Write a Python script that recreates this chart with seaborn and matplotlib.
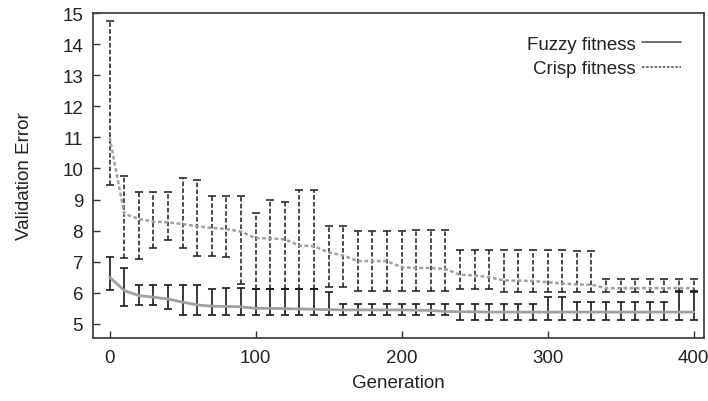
import matplotlib
matplotlib.use("Agg")
import matplotlib.pyplot as plt
import seaborn as sns
import numpy as np

# Generations (x values)
gens = [0, 10, 20, 30, 40, 50, 60, 70, 80, 90,
        100, 110, 120, 130, 140, 150, 160, 170, 180, 190,
        200, 210, 220, 230, 240, 250, 260, 270, 280, 290,
        300, 310, 320, 330, 340, 350, 360, 370, 380, 390, 400]

# Fuzzy fitness: mean, lower, upper
fuzzy_mean = [6.5, 6.07, 5.91, 5.86, 5.8, 5.7, 5.61, 5.57, 5.56, 5.55,
              5.5, 5.5, 5.49, 5.48, 5.47, 5.46, 5.45, 5.45, 5.45, 5.45,
              5.45, 5.44, 5.43, 5.4, 5.39, 5.39, 5.38, 5.38, 5.38, 5.38,
              5.38, 5.38, 5.38, 5.38, 5.38, 5.38, 5.38, 5.38, 5.38, 5.38, 5.38]
fuzzy_lower = [6.1, 5.59, 5.61, 5.61, 5.48, 5.3, 5.3, 5.3, 5.3, 5.3,
               5.3, 5.3, 5.3, 5.3, 5.3, 5.3, 5.3, 5.3, 5.3, 5.3,
               5.3, 5.3, 5.3, 5.3, 5.12, 5.12, 5.12, 5.12, 5.12, 5.12,
               5.12, 5.12, 5.12, 5.12, 5.12, 5.12, 5.12, 5.12, 5.12, 5.12, 5.12]
fuzzy_upper = [7.16, 6.8, 6.26, 6.26, 6.26, 6.26, 6.26, 6.13, 6.15, 6.15,
               6.13, 6.13, 6.13, 6.13, 6.13, 6.02, 5.64, 5.64, 5.64, 5.64,
               5.64, 5.64, 5.64, 5.64, 5.64, 5.64, 5.64, 5.64, 5.64, 5.64,
               5.86, 5.86, 5.7, 5.7, 5.7, 5.7, 5.7, 5.7, 5.7, 6.07, 6.07]

# Crisp fitness: mean, lower, upper
crisp_mean = [11.0, 8.54, 8.38, 8.29, 8.27, 8.21, 8.14, 8.09, 8.05, 7.97,
              7.76, 7.75, 7.72, 7.52, 7.5, 7.3, 7.2, 7.02, 7.02, 7.02,
              6.82, 6.8, 6.8, 6.77, 6.58, 6.56, 6.5, 6.4, 6.39, 6.38,
              6.34, 6.3, 6.27, 6.26, 6.15, 6.15, 6.15, 6.15, 6.15, 6.15, 6.15]
crisp_lower = [9.47, 7.12, 7.09, 7.44, 7.71, 7.44, 7.18, 7.18, 7.14, 6.29,
               6.13, 6.13, 6.13, 6.13, 6.13, 6.18, 6.2, 6.07, 6.07, 6.07,
               6.07, 6.07, 6.07, 6.07, 6.13, 6.13, 6.13, 6.02, 6.02, 6.02,
               6.02, 6.02, 6.02, 6.02, 6.02, 6.02, 6.02, 6.02, 6.02, 6.02, 6.02]
crisp_upper = [14.75, 9.77, 9.25, 9.25, 9.25, 9.7, 9.64, 9.13, 9.13, 9.13,
               8.57, 9.0, 8.93, 9.32, 9.32, 8.16, 8.16, 8.0, 8.0, 8.0,
               8.0, 8.02, 8.02, 8.02, 7.38, 7.38, 7.38, 7.38, 7.38, 7.38,
               7.38, 7.38, 7.33, 7.33, 6.46, 6.46, 6.46, 6.46, 6.46, 6.46, 6.46]

sns.set_style("white")
plt.rcParams['font.family'] = ['Liberation Sans', 'DejaVu Sans']
fs = 13.5

fig = plt.figure(figsize=(7.08, 4.02), dpi=100)
ax = fig.add_axes([0.131, 0.157, 0.863, 0.808])

x = np.array(gens)
fm, fl, fu = map(np.array, (fuzzy_mean, fuzzy_lower, fuzzy_upper))
cm, cl, cu = map(np.array, (crisp_mean, crisp_lower, crisp_upper))

# Error bars
ax.errorbar(x, fm, yerr=[fm - fl, fu - fm], fmt='none',
            ecolor='#1a1a1a', elinewidth=1.2, capsize=3.2, capthick=1.2)
eb_c = ax.errorbar(x, cm, yerr=[cm - cl, cu - cm], fmt='none',
                   ecolor='#1a1a1a', elinewidth=1.1, capsize=3.2, capthick=1.1)
for lc in eb_c[2]:
    lc.set_linestyle((0, (3, 1.5)))

# Mean lines
sns.lineplot(x=gens, y=fuzzy_mean, ax=ax, color='#a0a0a0', lw=2.0,
             label='Fuzzy fitness')
sns.lineplot(x=gens, y=crisp_mean, ax=ax, color='#a0a0a0', lw=1.8,
             linestyle=(0, (1.5, 1)), label='Crisp fitness')

ax.set_xlim(-11.6, 407)
ax.set_ylim(4.55, 15)
ax.set_xticks([0, 100, 200, 300, 400])
ax.set_yticks(range(5, 16))

ax.tick_params(direction='in', length=5, width=1, color='#333333',
               labelsize=fs, labelcolor='#222222', bottom=True, left=True,
               top=False, right=False)
ax.tick_params(axis='x', pad=8)
ax.tick_params(axis='y', pad=7)
for s in ax.spines.values():
    s.set_color('#444444')
    s.set_linewidth(1.3)

ax.set_xlabel('Generation', fontsize=fs, color='#222222', labelpad=6)
ax.set_ylabel('Validation Error', fontsize=fs, color='#222222', labelpad=21)

leg = ax.legend(loc='upper right', frameon=False, markerfirst=False,
                fontsize=fs, handlelength=2.1, handletextpad=0.35,
                labelspacing=0.4, borderaxespad=0.8)
for t in leg.get_texts():
    t.set_color('#222222')
for h in leg.get_lines():
    h.set_color('#555555')
    h.set_linewidth(1.2)

fig.savefig('out.png', dpi=100)
